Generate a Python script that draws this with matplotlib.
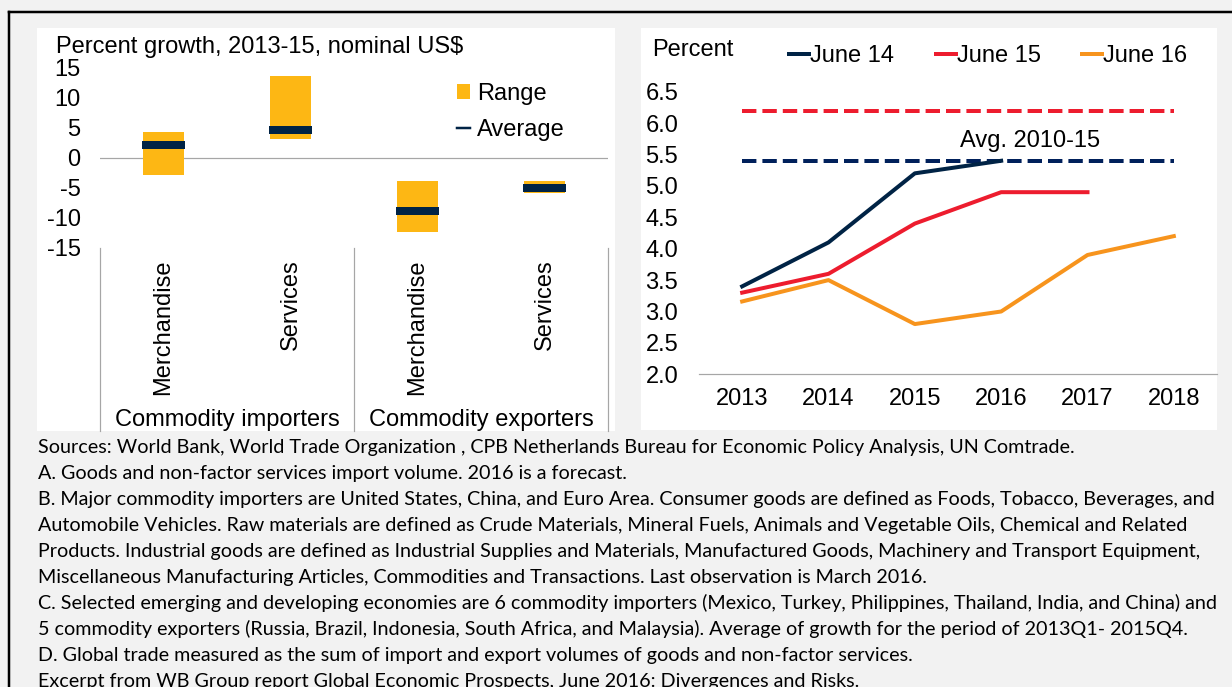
import matplotlib
matplotlib.use("Agg")
import matplotlib.pyplot as plt
import matplotlib.transforms as mtransforms
from matplotlib.patches import Rectangle, Patch
from matplotlib.lines import Line2D
import numpy as np

# ---------------- data ----------------
# Panel A: import growth of commodity importers / exporters
group_labels = ["Commodity importers", "Commodity exporters"]
categories = ["Merchandise", "Services", "Merchandise", "Services"]
range_low = [-2.8, 3.2, -12.4, -5.8]
range_high = [4.3, 13.6, -3.9, -3.8]
average = [2.2, 4.7, -8.8, -5.05]
left_yticks = [15, 10, 5, 0, -5, -10, -15]
left_title = "Percent growth, 2013-15, nominal US$"

# Panel B: global trade growth forecasts
years = ["2013", "2014", "2015", "2016", "2017", "2018"]
june14 = [3.4, 4.1, 5.2, 5.4]
june15 = [3.3, 3.6, 4.4, 4.9, 4.9]
june16 = [3.16, 3.5, 2.8, 3.0, 3.9, 4.2]
avg_red = 6.2
avg_navy = 5.4
right_yticks = [2.0, 2.5, 3.0, 3.5, 4.0, 4.5, 5.0, 5.5, 6.0, 6.5]
avg_label = "Avg. 2010-15"

footer_lines = [
    "Sources: World Bank, World Trade Organization , CPB Netherlands Bureau for Economic Policy Analysis, UN Comtrade.",
    "A. Goods and non-factor services import volume. 2016 is a forecast.",
    "B. Major commodity importers are United States, China, and Euro Area. Consumer goods are defined as Foods, Tobacco, Beverages, and",
    "Automobile Vehicles. Raw materials are defined as Crude Materials, Mineral Fuels, Animals and Vegetable Oils, Chemical and Related",
    "Products. Industrial goods are defined as Industrial Supplies and Materials, Manufactured Goods, Machinery and Transport Equipment,",
    "Miscellaneous Manufacturing Articles, Commodities and Transactions. Last observation is March 2016.",
    "C. Selected emerging and developing economies are 6 commodity importers (Mexico, Turkey, Philippines, Thailand, India, and China) and",
    "5 commodity exporters (Russia, Brazil, Indonesia, South Africa, and Malaysia). Average of growth for the period of 2013Q1- 2015Q4.",
    "D. Global trade measured as the sum of import and export volumes of goods and non-factor services.",
    "Excerpt from WB Group report Global Economic Prospects, June 2016: Divergences and Risks.",
]

# ---------------- style ----------------
W, H = 1232, 687
DPI = 100
PX = 72.0 / DPI  # points per pixel
GOLD = "#FDB714"
NAVY = "#002345"
NAVY_D = "#00205B"
RED = "#ED1C2E"
ORANGE = "#F7941D"
GRID = "#A6A6A6"
BG = "#F2F2F2"
FS = 17

plt.rcParams["font.family"] = ["Liberation Sans", "DejaVu Sans"]
plt.rcParams["axes.unicode_minus"] = False

fig = plt.figure(figsize=(W / DPI, H / DPI), dpi=DPI, facecolor=BG)


def fx(px):
    return px / W


def fy(py):
    return 1 - py / H


def axes_rect(left, top, right, bottom):
    return [fx(left), fy(bottom), (right - left) / W, (bottom - top) / H]


# frame lines and white panels
fig.add_artist(Line2D([fx(9), fx(9)], [fy(12), 0], color="black", lw=2.5 * PX, transform=fig.transFigure))
fig.add_artist(Line2D([fx(9), 1], [fy(12), fy(12)], color="black", lw=2.5 * PX, transform=fig.transFigure))
for (l, t, r, b) in [(37, 28, 615, 431), (641, 28, 1217, 430)]:
    fig.add_artist(Rectangle((fx(l), fy(b)), (r - l) / W, (b - t) / H, transform=fig.transFigure,
                             facecolor="white", edgecolor="none", zorder=-1))

# ---------------- Panel A ----------------
ax1 = fig.add_axes(axes_rect(100, 68, 608, 248))
ax1.set_facecolor("none")
x = np.arange(len(categories))
lo = np.array(range_low)
hi = np.array(range_high)
ax1.bar(x, hi - lo, bottom=lo, width=0.315, color=GOLD, zorder=2)
ax1.hlines(average, x - 0.173, x + 0.173, color=NAVY, lw=8 * PX, zorder=3)
ax1.axhline(0, color=GRID, lw=1.2 * PX, zorder=1)
ax1.set_xlim(-0.5, len(categories) - 0.5)
ax1.set_ylim(-15, 15)
ax1.set_yticks(left_yticks)
ax1.set_yticklabels([str(v) for v in left_yticks], fontsize=FS)
ax1.set_xticks(x)
ax1.set_xticklabels(categories, rotation=90, fontsize=FS, va="top", ha="center")
ax1.tick_params(axis="y", length=0, pad=14)
ax1.tick_params(axis="x", length=0, pad=8)
for s in ax1.spines.values():
    s.set_visible(False)

blend1 = mtransforms.blended_transform_factory(ax1.transData, fig.transFigure)
for b in [-0.5, 1.5, 3.5]:
    ax1.add_line(Line2D([b, b], [fy(248), fy(431)], transform=blend1, color=GRID, lw=1.2 * PX, clip_on=False))
for i, g in enumerate(group_labels):
    ax1.text(2 * i + 0.5, fy(426), g, transform=blend1, ha="center", va="baseline", fontsize=FS)

fig.text(fx(56), fy(53.5), left_title, ha="left", va="baseline", fontsize=FS)

fig.legend(handles=[Patch(facecolor=GOLD, edgecolor="none", label="Range"),
                    Line2D([], [], color=NAVY, lw=2.5 * PX, label="Average")],
           loc="upper left", bbox_to_anchor=(fx(457), fy(83)), frameon=False,
           fontsize=FS, handlelength=0.56, handleheight=0.56, handletextpad=0.3,
           labelspacing=0.6, borderpad=0, borderaxespad=0)

# ---------------- Panel B ----------------
ax2 = fig.add_axes(axes_rect(699, 91.7, 1217, 374.3))
ax2.set_facecolor("none")
xi = np.arange(len(years))
ax2.plot(xi, np.full(len(years), avg_red), color=RED, lw=4 * PX, ls=(0, (3.6, 1.5)), zorder=2)
ax2.plot(xi, np.full(len(years), avg_navy), color=NAVY_D, lw=4 * PX, ls=(0, (3.6, 1.5)), zorder=2)
l14, = ax2.plot(xi[:len(june14)], june14, color=NAVY, lw=4 * PX, label="June 14", zorder=3)
l15, = ax2.plot(xi[:len(june15)], june15, color=RED, lw=4 * PX, label="June 15", zorder=3)
l16, = ax2.plot(xi[:len(june16)], june16, color=ORANGE, lw=4 * PX, label="June 16", zorder=3)
ax2.text(3.34, avg_navy + 0.32, avg_label, ha="center", va="center", fontsize=FS)
ax2.set_xlim(-0.5, len(years) - 0.5)
ax2.set_ylim(min(right_yticks), max(right_yticks))
ax2.set_yticks(right_yticks)
ax2.set_yticklabels([f"{v:.1f}" for v in right_yticks], fontsize=FS)
ax2.set_xticks(xi)
ax2.set_xticklabels(years, fontsize=FS)
ax2.tick_params(axis="y", length=0, pad=15)
ax2.tick_params(axis="x", length=0, pad=10)
for k, s in ax2.spines.items():
    s.set_visible(k == "bottom")
ax2.spines["bottom"].set_color(GRID)
ax2.spines["bottom"].set_linewidth(1.2 * PX)

fig.text(fx(652), fy(55.5), "Percent", ha="left", va="baseline", fontsize=FS)
fig.legend(handles=[l14, l15, l16], loc="center left", bbox_to_anchor=(fx(789), fy(56)),
           ncol=3, frameon=False, fontsize=FS, handlelength=0.85, handletextpad=0.05,
           columnspacing=1.75, borderpad=0, borderaxespad=0)

# ---------------- footer ----------------
footer_font = ["Lato", "DejaVu Sans"]
renderer = fig.canvas.get_renderer()
probe = fig.text(0, 0, footer_lines[0], fontsize=14, family=footer_font)
w14 = probe.get_window_extent(renderer).width
probe.remove()
ffs = 14 * 1.045 * (1035 - 38) / w14
for i, line in enumerate(footer_lines):
    fig.text(fx(38), fy(453.3 + 26.0 * i), line, ha="left", va="baseline",
             fontsize=ffs, family=footer_font, color="black")

fig.savefig("out.png", dpi=DPI, facecolor=BG)
